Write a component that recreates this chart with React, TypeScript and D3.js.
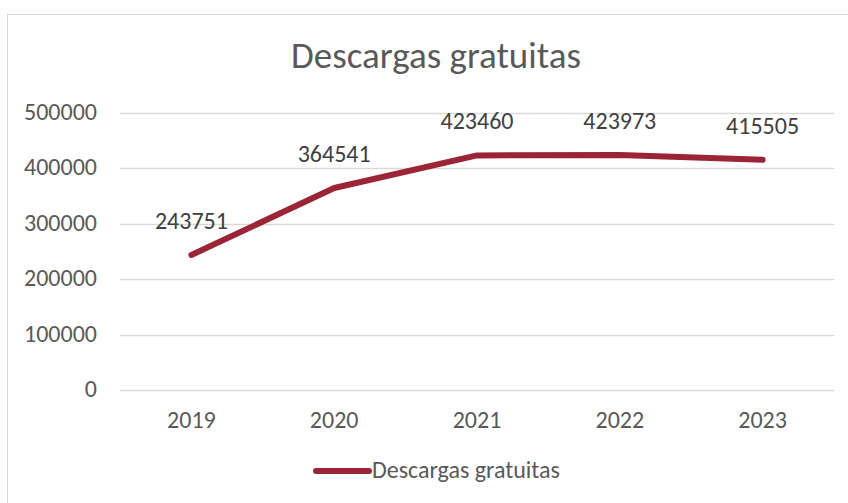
import { useEffect, useRef } from 'react';
import * as d3 from 'd3';

const YEARS = ['2019', '2020', '2021', '2022', '2023'];
const DOWNLOADS = [243751, 364541, 423460, 423973, 415505];
const Y_TICKS = [0, 100000, 200000, 300000, 400000, 500000];
const TITLE = 'Descargas gratuitas';
const SERIES_NAME = 'Descargas gratuitas';

const FONT = 'Carlito, Calibri, "Liberation Sans Narrow", "DejaVu Sans Condensed", sans-serif';
const RED = '#9b2536';

export default function App() {
  const ref = useRef<SVGSVGElement | null>(null);

  useEffect(() => {
    if (!ref.current) return;
    const svg = d3.select(ref.current);
    svg.selectAll('*').remove();

    const width = 848;
    const height = 503;
    const margin = { top: 113, right: 14, bottom: 113, left: 120 };

    // chart area border
    svg.append('rect')
      .attr('x', 7.5)
      .attr('y', 14.5)
      .attr('width', 860)
      .attr('height', 500)
      .attr('fill', '#fff')
      .attr('stroke', '#d9d9d9');

    svg.append('text')
      .attr('x', 436)
      .attr('y', 68)
      .attr('text-anchor', 'middle')
      .attr('font-size', 37)
      .attr('fill', '#595959')
      .style('font-family', FONT)
      .text(TITLE);

    const x = d3.scaleBand()
      .domain(YEARS)
      .range([margin.left, width - margin.right]);

    const y = d3.scaleLinear()
      .domain([0, 500000])
      .range([height - margin.bottom, margin.top]);

    const cx = (i: number) => (x(YEARS[i]) as number) + x.bandwidth() / 2;

    // Grid
    svg.selectAll('.grid')
      .data(Y_TICKS)
      .enter()
      .append('line')
      .attr('x1', margin.left)
      .attr('x2', width - margin.right)
      .attr('y1', d => Math.round(y(d)) + 0.5)
      .attr('y2', d => Math.round(y(d)) + 0.5)
      .attr('stroke', '#d9d9d9')
      .attr('stroke-width', 1.3);

    // Y labels
    svg.selectAll('.ylab')
      .data(Y_TICKS)
      .enter()
      .append('text')
      .attr('x', 97)
      .attr('y', d => y(d) + 7)
      .attr('text-anchor', 'end')
      .attr('font-size', 24)
      .attr('fill', '#595959')
      .style('font-family', FONT)
      .text(d => String(d));

    // X labels
    svg.selectAll('.xlab')
      .data(YEARS)
      .enter()
      .append('text')
      .attr('x', (_, i) => cx(i))
      .attr('y', 428)
      .attr('text-anchor', 'middle')
      .attr('font-size', 24)
      .attr('fill', '#595959')
      .style('font-family', FONT)
      .text(d => d);

    const line = d3.line<number>()
      .x((_, i) => cx(i))
      .y(d => y(d));

    svg.append('path')
      .datum(DOWNLOADS)
      .attr('d', line)
      .attr('fill', 'none')
      .attr('stroke', RED)
      .attr('stroke-width', 6)
      .attr('stroke-linecap', 'round')
      .attr('stroke-linejoin', 'round');

    // Data labels
    svg.selectAll('.dlab')
      .data(DOWNLOADS)
      .enter()
      .append('text')
      .attr('x', (_, i) => cx(i))
      .attr('y', d => y(d) - 26)
      .attr('text-anchor', 'middle')
      .attr('font-size', 24)
      .attr('fill', '#404040')
      .style('font-family', FONT)
      .text(d => String(d));

    // Legend
    svg.append('line')
      .attr('x1', 316)
      .attr('x2', 369)
      .attr('y1', 471)
      .attr('y2', 471)
      .attr('stroke', RED)
      .attr('stroke-width', 6)
      .attr('stroke-linecap', 'round');

    svg.append('text')
      .attr('x', 372)
      .attr('y', 478)
      .attr('font-size', 24)
      .attr('fill', '#595959')
      .style('font-family', FONT)
      .text(SERIES_NAME);
  }, []);

  return (
    <svg
      ref={ref}
      width={848}
      height={503}
      style={{ position: 'absolute', left: 0, top: 0, background: '#fff' }}
    />
  );
}
